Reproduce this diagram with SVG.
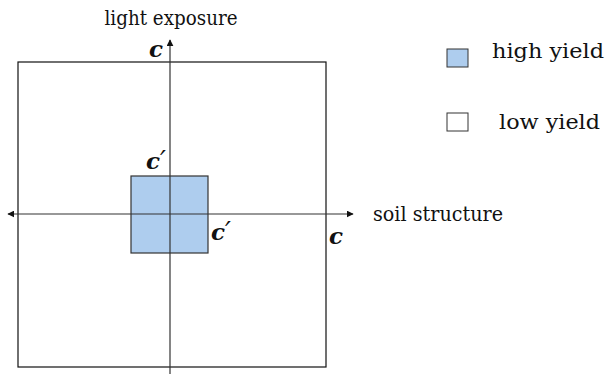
<svg xmlns="http://www.w3.org/2000/svg" width="608" height="374" viewBox="0 0 608 374">
<style>
.lbl{font-family:"DejaVu Serif","Liberation Serif",serif;font-size:20px;fill:#111}
.m{font-family:"DejaVu Serif","Liberation Serif",serif;font-size:23px;font-style:italic;font-weight:bold;fill:#111}
.pr{font-size:26px;font-weight:normal}
.ax{stroke:#333;stroke-width:1.2;fill:none}
</style>
<defs>
<marker id="arr" viewBox="0 0 10 10" refX="9" refY="5" markerWidth="7" markerHeight="7" markerUnits="userSpaceOnUse" orient="auto-start-reverse">
<path d="M0,0 L10,5 L0,10 z" fill="#111"/>
</marker>
</defs>
<rect x="0" y="0" width="608" height="374" fill="#fff"/>
<g id="outer">
<rect x="18" y="62" width="308" height="305" fill="#fff" stroke="#111" stroke-width="1.2"/>
</g>
<g id="inner">
<rect x="131" y="176" width="77" height="77" fill="#aecdee" stroke="#333" stroke-width="1.2"/>
</g>
<g id="connectors">
<line class="ax" x1="8" y1="214" x2="353" y2="214" marker-start="url(#arr)" marker-end="url(#arr)"/>
<line class="ax" x1="170" y1="380" x2="170" y2="40" marker-start="url(#arr)" marker-end="url(#arr)"/>
</g>
<g id="labels">
<text class="lbl" x="171" y="25" text-anchor="middle" textLength="133" lengthAdjust="spacingAndGlyphs">light exposure</text>
<text class="lbl" x="373" y="221" textLength="130" lengthAdjust="spacingAndGlyphs">soil structure</text>
<text class="m" x="149" y="57">c</text>
<text class="m" x="146" y="169">c<tspan class="pr">′</tspan></text>
<text class="m" x="211" y="240">c<tspan class="pr">′</tspan></text>
<text class="m" x="329" y="244">c</text>
</g>
<g id="legend-high">
<rect x="447" y="49" width="21" height="18" fill="#aecdee" stroke="#333" stroke-width="1"/>
<text class="lbl" x="492" y="58" textLength="112" lengthAdjust="spacingAndGlyphs">high yield</text>
</g>
<g id="legend-low">
<rect x="447" y="113" width="21" height="18" fill="#fff" stroke="#333" stroke-width="1"/>
<text class="lbl" x="499" y="129" textLength="101" lengthAdjust="spacingAndGlyphs">low yield</text>
</g>
</svg>
